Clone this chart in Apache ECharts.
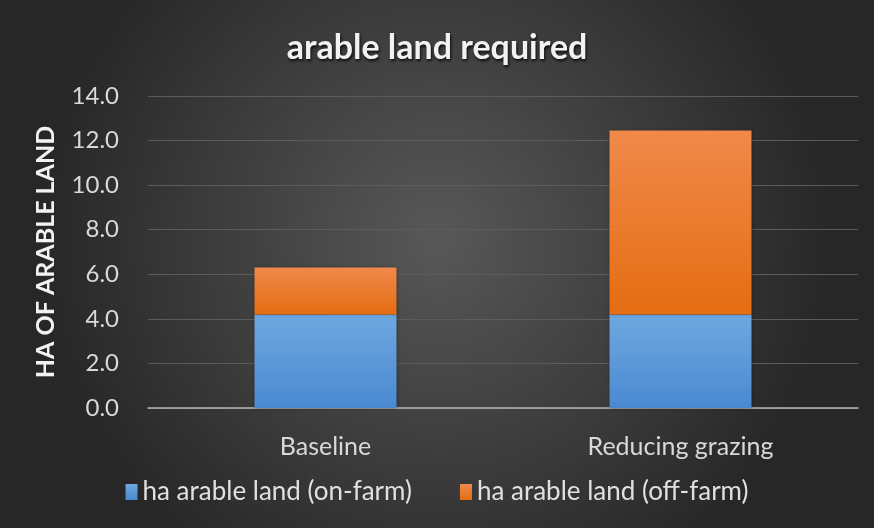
<!DOCTYPE html>
<html>
<head>
<meta charset="utf-8">
<script src="https://cdn.jsdelivr.net/npm/echarts@6/dist/echarts.min.js"></script>
<style>
  html, body { margin: 0; padding: 0; background: #2b2b2b; }
  #chart { width: 874px; height: 528px; }
</style>
</head>
<body>
<div id="chart"></div>
<script>
// Scenarios along the x axis
const categories = ['Baseline', 'Reducing grazing'];
// Hectares of arable land per scenario
const onFarm = [4.2, 4.2];
const offFarm = [2.1, 8.25];
// Y axis range and step
const yMin = 0;
const yMax = 14;
const yStep = 2;

const FONT = 'Lato, "Open Sans", sans-serif';

function vGrad(top, bottom) {
  return new echarts.graphic.LinearGradient(0, 0, 0, 1, [
    { offset: 0, color: top },
    { offset: 1, color: bottom }
  ]);
}

const chart = echarts.init(document.getElementById('chart'));
chart.setOption({
  backgroundColor: new echarts.graphic.RadialGradient(0.5, 0.45, 0.75, [
    { offset: 0, color: '#585858' },
    { offset: 1, color: '#272727' }
  ]),
  animation: false,
  title: {
    text: 'arable land required',
    left: 'center',
    top: 26,
    textStyle: {
      color: '#f2f2f2',
      fontFamily: FONT,
      fontWeight: 'bold',
      fontSize: 34,
      textShadowColor: 'rgba(0,0,0,0.8)',
      textShadowBlur: 3,
      textShadowOffsetX: 1,
      textShadowOffsetY: 2
    }
  },
  legend: {
    bottom: 18,
    left: 'center',
    itemWidth: 12,
    itemHeight: 16,
    itemGap: 48,
    icon: 'rect',
    textStyle: { color: '#e0e0e0', fontFamily: FONT, fontSize: 26 },
    data: ['ha arable land (on-farm)', 'ha arable land (off-farm)']
  },
  grid: { left: 148, right: 16, top: 96, bottom: 120 },
  xAxis: {
    type: 'category',
    data: categories,
    axisLine: { lineStyle: { color: '#b5b5b5', width: 1.5 } },
    axisTick: { show: false },
    axisLabel: { color: '#d9d9d9', fontFamily: FONT, fontSize: 25, margin: 26 }
  },
  yAxis: {
    type: 'value',
    min: yMin,
    max: yMax,
    interval: yStep,
    name: 'HA OF ARABLE LAND',
    nameLocation: 'middle',
    nameGap: 90,
    nameTextStyle: { color: '#f2f2f2', fontFamily: FONT, fontWeight: 'bold', fontSize: 25 },
    axisLine: { show: false },
    axisTick: { show: false },
    axisLabel: {
      color: '#d9d9d9', fontFamily: FONT, fontSize: 24, margin: 29,
      formatter: v => v.toFixed(1)
    },
    splitLine: { lineStyle: { color: '#5c5c5c', width: 1 } }
  },
  series: [
    {
      name: 'ha arable land (on-farm)',
      type: 'bar',
      stack: 'land',
      barWidth: '40%',
      data: onFarm,
      itemStyle: {
        color: vGrad('#6fa8e0', '#4a89d2'),
        shadowColor: 'rgba(0,0,0,0.35)', shadowBlur: 4
      }
    },
    {
      name: 'ha arable land (off-farm)',
      type: 'bar',
      stack: 'land',
      barWidth: '40%',
      data: offFarm,
      itemStyle: {
        color: vGrad('#f0894a', '#e56d12'),
        shadowColor: 'rgba(0,0,0,0.35)', shadowBlur: 4
      }
    }
  ]
});
</script>
</body>
</html>
